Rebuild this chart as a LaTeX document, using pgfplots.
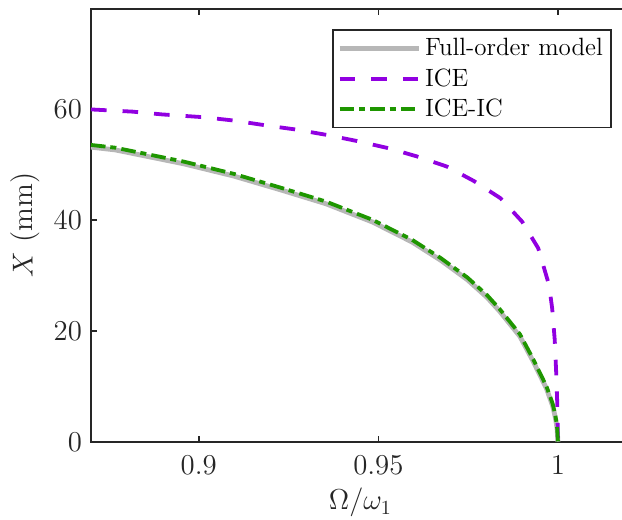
\documentclass[border=0pt]{standalone}
\usepackage{pgfplots}
\pgfplotsset{compat=1.18}
\definecolor{fullgray}{RGB}{183,183,183}
\definecolor{icepurple}{RGB}{145,0,225}
\definecolor{icegreen}{RGB}{30,150,0}
\definecolor{axgray}{RGB}{38,38,38}
\begin{document}
\begin{tikzpicture}
\begin{axis}[
  scale only axis, width=269.4pt, height=216.4pt,
  xmin=0.87, xmax=1.02, ymin=0, ymax=78,
  xtick={0.9,0.95,1}, ytick={0,20,40,60},
  xticklabels={$0.9$,$0.95$,$1$},
  yticklabels={$0$,$20$,$40$,$60$},
  axis line style={axgray, line width=0.8pt},
  major tick style={axgray, line width=0.8pt},
  tick align=inside, major tick length=2.8pt,
  ticklabel style={font=\fontsize{13.25}{16}\selectfont, text=axgray},
  xticklabel style={yshift=-3.5pt},
  yticklabel style={xshift=-1pt},
  xlabel={$\Omega/\omega_1$}, ylabel={$X$ (mm)},
  label style={font=\fontsize{14.6}{17}\selectfont, text=axgray},
  legend style={at={(0.9664,0.9531)}, anchor=north east,
    font=\fontsize{12.5}{14}\selectfont, draw=axgray, line width=0.8pt,
    inner xsep=2pt, inner ysep=2pt, row sep=1pt},
  legend cell align=left,
  legend image code/.code={\draw[#1] (0pt,0pt) -- (39.5pt,0pt);},
]
\addplot[fullgray, line width=2.4pt] coordinates {
(0.870,53.1) (0.8768,52.6) (0.8958,50.1) (0.9097,47.9) (0.9228,45.4)
(0.9354,42.9) (0.9484,39.6) (0.9594,36.0) (0.9674,32.7) (0.9748,29.2)
(0.9803,26.0) (0.9838,23.5) (0.9894,19.0) (0.9931,14.5) (0.9968,9.6)
(0.9985,6.5) (0.9991,4.9) (0.9995,3.5) (0.99975,2.4) (1.0,0)};
\addlegendentry{Full-order model}
\addplot[icepurple, line width=1.9pt, dash pattern=on 7.8pt off 8pt] coordinates {
(0.870,59.9) (0.8816,59.5) (0.8898,59.0) (0.9013,58.5) (0.9097,57.9)
(0.920,56.9) (0.9268,56.3) (0.9357,55.3) (0.9441,54.2) (0.9529,52.9)
(0.9609,51.4) (0.9691,49.6) (0.9766,47.0) (0.984,43.9) (0.990,39.7)
(0.9945,34.9) (0.9975,28.3) (0.9984,24.0) (0.9991,18.4) (0.9995,12.6)
(0.9998,7.0) (1.0,0)};
\addlegendentry{ICE}
\addplot[icegreen, line width=1.9pt, dash pattern=on 7.3pt off 2.4pt on 3pt off 2.6pt] coordinates {
(0.870,53.5) (0.8768,53.0) (0.8958,50.5) (0.9097,48.3) (0.9228,45.8)
(0.9354,43.3) (0.9484,40.0) (0.9594,36.4) (0.9674,33.1) (0.9748,29.6)
(0.9803,26.4) (0.9838,23.9) (0.9894,19.4) (0.9931,14.9) (0.9968,10.0)
(0.9985,6.9) (0.9991,5.3) (0.9995,3.9) (0.99975,2.7) (1.0,0)};
\addlegendentry{ICE-IC}
\end{axis}
\pgfresetboundingbox
\path[use as bounding box] ([xshift=-45.5pt,yshift=-38.65pt]current axis.south west) rectangle ([xshift=265.5pt,yshift=4.5pt]current axis.north west);
\end{tikzpicture}
\end{document}
